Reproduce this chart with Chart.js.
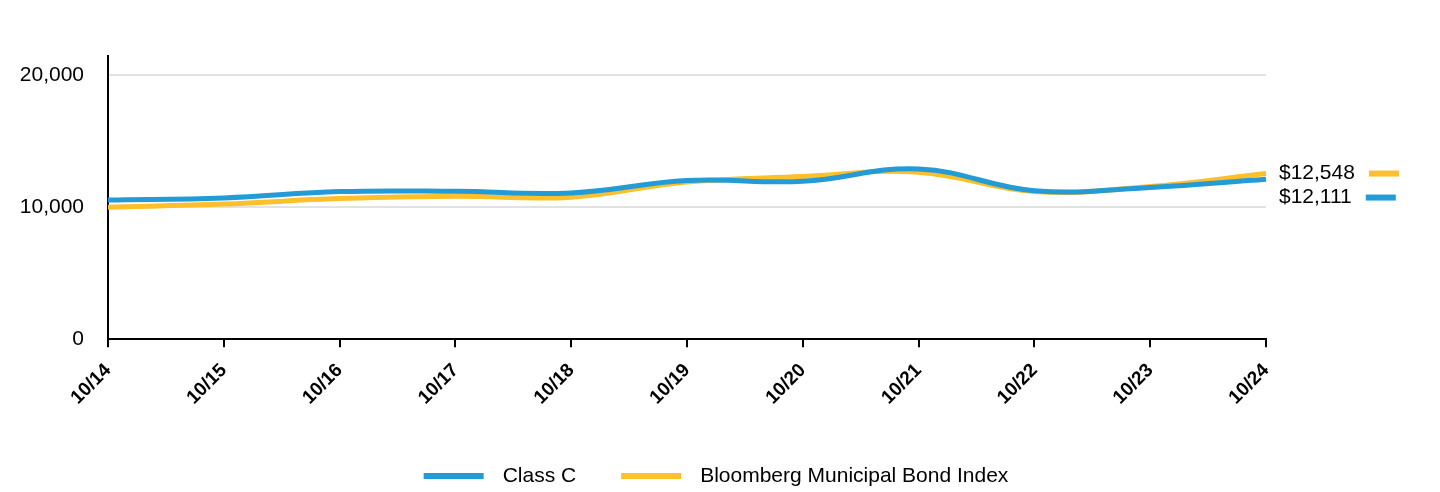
<!DOCTYPE html>
<html>
<head>
<meta charset="utf-8">
<script src="https://cdn.jsdelivr.net/npm/chart.js@4/dist/chart.umd.min.js"></script>
<style>
  html, body { margin: 0; padding: 0; background: #fff; }
  #wrap { width: 1440px; height: 492px; }
</style>
</head>
<body>
<div id="wrap"><canvas id="growth"></canvas></div>
<script>
// values
const years = ['10/14', '10/15', '10/16', '10/17', '10/18', '10/19', '10/20', '10/21', '10/22', '10/23', '10/24'];
const classC = [10550, 10700, 11180, 11200, 11080, 12015, 11960, 12900, 11250, 11500, 12111];
const muniIndex = [10000, 10240, 10650, 10820, 10760, 11910, 12320, 12650, 11180, 11560, 12548];
const yTicks = [0, 10000, 20000];

const BLUE = '#229BD6';
const GOLD = '#FDBF2A';
const FONT = 'Liberation Sans, Arial, sans-serif';

// end-of-line value labels on the right
const endLabels = {
    id: 'endLabels',
    afterDatasetsDraw(chart) {
        const ctx = chart.ctx;
        const y = chart.scales.y;
        const x0 = chart.chartArea.right + 13;
        let items = chart.data.datasets.map(ds => {
            const v = ds.data[ds.data.length - 1];
            return { v: v, color: ds.borderColor, py: y.getPixelForValue(v) };
        });
        items.sort((a, b) => b.v - a.v);
        for (let i = 1; i < items.length; i++) {
            if (items[i].py < items[i - 1].py + 24) items[i].py = items[i - 1].py + 24;
        }
        ctx.save();
        ctx.font = '21px ' + FONT;
        ctx.textBaseline = 'middle';
        items.forEach(it => {
            const txt = '$' + it.v.toLocaleString('en-US');
            ctx.fillStyle = '#000';
            ctx.fillText(txt, x0, it.py);
            const w = ctx.measureText(txt).width;
            ctx.fillStyle = it.color;
            ctx.fillRect(x0 + w + 14, it.py - 3, 30, 6);
        });
        ctx.restore();
    }
};

// bottom legend: long line swatch, wide gap before the text
const bottomLegend = {
    id: 'bottomLegend',
    afterDraw(chart) {
        const ctx = chart.ctx;
        const cy = 476;
        ctx.save();
        ctx.font = '21px ' + FONT;
        ctx.textBaseline = 'middle';
        const items = chart.data.datasets.map(ds => ({ text: ds.label, color: ds.borderColor, w: ctx.measureText(ds.label).width }));
        const total = items.reduce((s, it) => s + 60 + 19 + it.w, 0) + 45 * (items.length - 1);
        let x = (chart.width - total) / 2 - 4;
        items.forEach(it => {
            ctx.fillStyle = it.color;
            ctx.fillRect(x, cy - 3, 60, 6);
            ctx.fillStyle = '#000';
            ctx.fillText(it.text, x + 79, cy);
            x += 79 + it.w + 45;
        });
        ctx.restore();
    }
};

new Chart(document.getElementById('growth'), {
    type: 'line',
    data: {
        labels: years,
        datasets: [{
            label: 'Class C',
            data: classC,
            borderColor: BLUE,
            backgroundColor: BLUE,
            borderWidth: 5,
            tension: 0.4,
            pointRadius: 0,
            fill: false,
            order: 0
        }, {
            label: 'Bloomberg Municipal Bond Index',
            data: muniIndex,
            borderColor: GOLD,
            backgroundColor: GOLD,
            borderWidth: 5,
            tension: 0.4,
            pointRadius: 0,
            fill: false,
            order: 1
        }]
    },
    options: {
        responsive: true,
        maintainAspectRatio: false,
        animation: false,
        layout: { padding: { left: 0, right: 174, top: 56, bottom: 71 } },
        plugins: {
            tooltip: { enabled: false },
            legend: { display: false }
        },
        scales: {
            x: {
                grid: { drawOnChartArea: false, drawTicks: true, tickLength: 8, color: '#000', lineWidth: 2 },
                border: { color: '#000', width: 2 },
                ticks: {
                    color: '#000',
                    font: { family: FONT, size: 19, weight: 'bold' },
                    minRotation: 45,
                    maxRotation: 45,
                    padding: 12
                }
            },
            y: {
                min: 0,
                max: 21450,
                afterBuildTicks(axis) { axis.ticks = yTicks.map(v => ({ value: v })); },
                afterFit(axis) { axis.width = 108; },
                grid: { color: '#e2e2e2', lineWidth: 2, drawTicks: false },
                border: { color: '#000', width: 2 },
                ticks: {
                    color: '#000',
                    font: { family: FONT, size: 21 },
                    padding: 24,
                    callback: v => v.toLocaleString('en-US')
                }
            }
        }
    },
    plugins: [endLabels, bottomLegend]
});
</script>
</body>
</html>
